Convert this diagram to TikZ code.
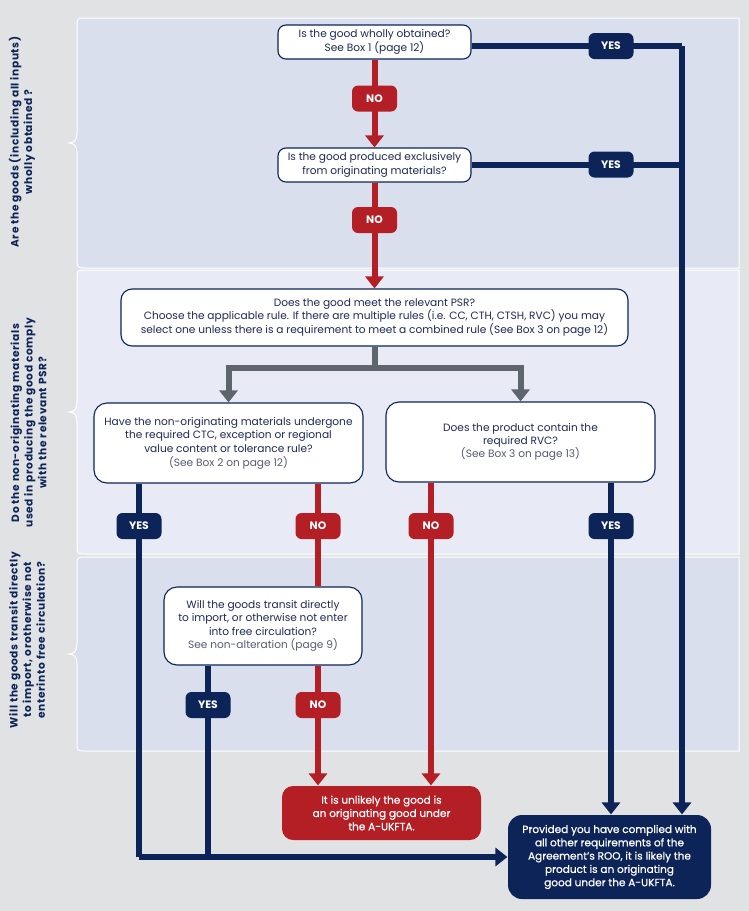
\documentclass[tikz,border=0pt]{standalone}
\usepackage{fontspec}
\setmainfont{Poppins}
\newfontfamily\sidefont[LetterSpace=6]{Poppins}
\newfontfamily\medfont[FakeBold=0.8]{Poppins}
\usetikzlibrary{arrows.meta}
\definecolor{bg}{HTML}{E1E2E4}
\definecolor{panelA}{HTML}{DADFEE}
\definecolor{panelB}{HTML}{E8EBF5}
\definecolor{navy}{HTML}{0D2458}
\definecolor{redc}{HTML}{B41F25}
\definecolor{grayc}{HTML}{5E656C}
\definecolor{boxtext}{HTML}{1E2A55}
\definecolor{subtext}{HTML}{585C72}
\newcommand{\mypanel}[3]{%
  \pgfmathsetmacro\pmid{(#1+#2)/2}%
  \filldraw[fill=#3, draw=white, line width=1pt]
    (739,#1) -- (86,#1) .. controls (77,#1) .. (77,#1+9) -- (77,\pmid-10)
    .. controls (77,\pmid-3) and (74,\pmid) .. (69,\pmid)
    .. controls (74,\pmid) and (77,\pmid+3) .. (77,\pmid+10)
    -- (77,#2-9) .. controls (77,#2) .. (86,#2) -- (739,#2) -- cycle;}
\tikzset{
  qbox/.style={draw=navy, line width=1.1pt, fill=white, rounded corners=8pt, align=center,
    text=boxtext, font=\fontsize{10.6}{13.3}\selectfont, inner sep=1pt},
  badge/.style={rounded corners=6pt, minimum width=45pt, minimum height=26pt, inner sep=0pt,
    text=white, font=\fontsize{10.8}{12}\selectfont\bfseries},
  yesb/.style={badge, fill=navy},
  nob/.style={badge, fill=redc},
  navyline/.style={draw=navy, line width=6pt},
  redline/.style={draw=redc, line width=6pt},
  grayline/.style={draw=grayc, line width=6pt},
  tip/.style={-{Triangle[width=18pt,length=12pt]}},
  sidelabel/.style={rotate=90, align=center, text=navy, font=\sidefont\fontsize{10.6}{13.6}\selectfont\bfseries},
  endbox/.style={qbox, draw=none, text=white, font=\medfont\fontsize{10.5}{13.3}\selectfont}
}
\begin{document}
\begin{tikzpicture}[x=1pt,y=-1pt]
\useasboundingbox (0,0) rectangle (749,911);
\fill[bg] (0,0) rectangle (749,911);
% panels
\mypanel{18}{268}{panelA}
\mypanel{270}{554}{panelB}
\mypanel{557}{751}{panelA}
% side labels
\node[sidelabel] (l1) at (22,142) {Are the goods (including all inputs)\\wholly obtained ?};
\node[sidelabel] (l2) at (28.5,423) {Do the non-originating materials\\used in producing the good comply\\with the relevant PSR?};
\node[sidelabel] (l3) at (27,640) {Will the goods transit directly\\to import, orotherwise not\\enterinto free circulation?};
% boxes
\node[qbox, minimum width=193pt, minimum height=34pt] (b1) at (374.5,42) {Is the good wholly obtained?\\See Box 1 (page 12)};
\node[qbox, minimum width=193pt, minimum height=34pt] (b2) at (374.5,165) {Is the good produced exclusively\\from originating materials?};
\node[qbox, rounded corners=11pt, minimum width=507pt, minimum height=57pt] (b3) at (374.5,317.5) {Does the good meet the relevant PSR?\\Choose the applicable rule. If there are multiple rules (i.e. CC, CTH, CTSH, RVC) you may\\select one unless there is a requirement to meet a combined rule (See Box 3 on page 12)};
\node[qbox, rounded corners=13pt, minimum width=269pt, minimum height=80pt, font=\fontsize{10.6}{13.7}\selectfont] (b4) at (228.5,443) {Have the non-originating materials undergone\\the required CTC, exception or regional\\value content or tolerance rule?\\\textcolor{subtext}{(See Box 2 on page 12)}};
\node[qbox, rounded corners=13pt, minimum width=269pt, minimum height=80pt] (b5) at (520.5,442) {Does the product contain the\\required RVC?\\\textcolor{subtext}{(See Box 3 on page 13)}};
\node[qbox, rounded corners=13pt, minimum width=198pt, minimum height=78pt] (b6) at (263,626) {Will the goods transit directly\\to import, or otherwise not enter\\into free circulation?\\\textcolor{subtext}{See non-alteration (page 9)}};
\node[endbox, fill=redc, rounded corners=11pt, minimum width=199pt, minimum height=54pt] (rb) at (381.5,813) {It is unlikely the good is\\an originating good under\\the A-UKFTA.};
\node[endbox, fill=navy, rounded corners=14pt, minimum width=203pt, minimum height=84pt] (fin) at (609.5,857) {Provided you have complied with\\all other requirements of the\\Agreement’s ROO, it is likely the\\product is an originating\\good under the A-UKFTA.};
% coordinates
\coordinate (r1) at (682,46);
\coordinate (r2) at (682,164.5);
\coordinate (split) at (374.5,368);
\coordinate (c1) at (139,857);
\coordinate (c2) at (208,857);
% connectors
\draw[navyline] (b1.east |- r1) -- (r1);
\draw[navyline, tip] (r1) -- ([xshift=72.5pt]fin.north);
\draw[navyline] (b2.east |- r2) -- (r2);
\draw[redline, tip] (b1.south) -- (b2.north);
\draw[redline, tip] (b2.south) -- (b3.north);
\draw[grayline] (b3.south) -- (split);
\draw[grayline, tip] (split) -- (split -| b4.north) -- (b4.north);
\draw[grayline, tip] (split) -- (split -| b5.north) -- (b5.north);
\draw[navyline] (b4.south -| c1) -- (c1);
\draw[navyline, tip] (c1) -- (fin.west |- c1);
\draw[navyline] (b6.south -| c2) -- (c2);
\draw[redline] (b4.south -| 318,0) -- (b6.north -| 318,0);
\draw[redline, tip] (b6.south -| 318,0) -- (rb.north -| 318,0);
\draw[redline, tip] (b5.south -| 431,0) -- (rb.north -| 431,0);
\draw[navyline, tip] (b5.south -| 611,0) -- (fin.north -| 611,0);
% badges
\node[yesb] (y1) at (611,46) {YES};
\node[yesb] (y2) at (611,164.5) {YES};
\node[nob] (n1) at (374.5,98.5) {NO};
\node[nob] (n2) at (374.5,220) {NO};
\node[yesb] (y3) at (139,526) {YES};
\node[nob] (n3) at (318,526) {NO};
\node[nob] (n4) at (431,526) {NO};
\node[yesb] (y4) at (611,526) {YES};
\node[yesb] (y5) at (208,705) {YES};
\node[nob] (n5) at (318,705) {NO};
\end{tikzpicture}
\end{document}
